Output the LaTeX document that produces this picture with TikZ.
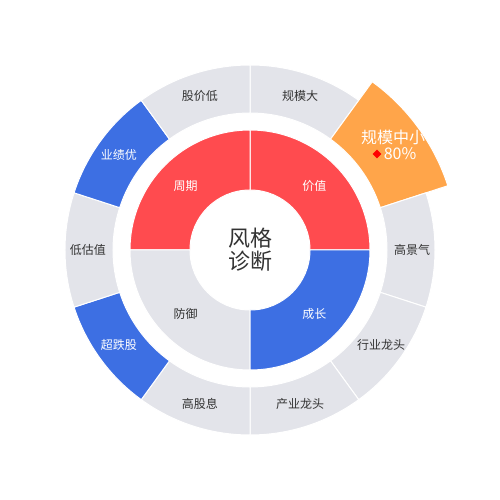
\documentclass[tikz,border=0pt]{standalone}
\usepackage{fontspec}
\setmainfont{Noto Sans CJK SC}
\usetikzlibrary{shapes.geometric}
\definecolor{cred}{HTML}{FF4B4F}
\definecolor{cblue}{HTML}{3D6FE3}
\definecolor{cgray}{HTML}{E3E4EA}
\definecolor{corange}{HTML}{FFA54A}
\definecolor{ctext}{HTML}{333333}
\newcommand\ringsector[5]{%
  \fill[#1, draw=white, line width=1pt] (#2:#4) arc[start angle=#2, end angle=#3, radius=#4] -- (#3:#5) arc[start angle=#3, end angle=#2, radius=#5] -- cycle;}
\tikzset{
  dark/.style={text=ctext, font=\fontsize{12}{12}\selectfont, inner sep=1pt},
  light/.style={text=white, font=\fontsize{12}{12}\selectfont, inner sep=1pt},
}
\begin{document}
\begin{tikzpicture}
\useasboundingbox (-250pt,-250pt) rectangle (250pt,250pt);
% inner ring
\ringsector{cred}{90}{0}{120pt}{60pt}
\ringsector{cred}{180}{90}{120pt}{60pt}
\ringsector{cgray}{270}{180}{120pt}{60pt}
\ringsector{cblue}{360}{270}{120pt}{60pt}
% outer ring
\ringsector{cgray}{90}{54}{185pt}{137pt}
\ringsector{corange}{54}{18}{208pt}{137pt}
\ringsector{cgray}{18}{-18}{185pt}{137pt}
\ringsector{cgray}{-18}{-54}{185pt}{137pt}
\ringsector{cgray}{-54}{-90}{185pt}{137pt}
\ringsector{cgray}{-90}{-126}{185pt}{137pt}
\ringsector{cblue}{-126}{-162}{185pt}{137pt}
\ringsector{cgray}{-162}{-198}{185pt}{137pt}
\ringsector{cblue}{162}{126}{185pt}{137pt}
\ringsector{cgray}{126}{90}{185pt}{137pt}
% inner labels
\node[light] (jiazhi) at (45:91pt) {价值};
\node[light] (zhouqi) at (135:91pt) {周期};
\node[dark] (fangyu) at (225:91pt) {防御};
\node[light] (chengzhang) at (315:91pt) {成长};
% outer labels
\node[dark] (guimoda) at (72:162pt) {规模大};
\node[dark] (gaojingqi) at (0:162pt) {高景气};
\node[dark] (hangye) at (-36:162pt) {行业龙头};
\node[dark] (chanye) at (-72:162pt) {产业龙头};
\node[dark] (gaoguxi) at (-108:162pt) {高股息};
\node[light] (chaodie) at (-144:162pt) {超跌股};
\node[dark] (diguzhi) at (180:162pt) {低估值};
\node[light] (yeji) at (144:162pt) {业绩优};
\node[dark] (gujiadi) at (108:162pt) {股价低};
% highlighted
\node[text=white, font=\fontsize{16}{16}\selectfont, inner sep=0pt] (zhongxiao) at (143pt,113pt) {规模中小};
\node[text=white, font=\fontsize{16}{16}\selectfont, inner sep=0pt] (pct) at (150pt,96pt) {80\%};
\node[diamond, fill=red, inner sep=0pt, minimum size=9pt] (dia) at (127pt,96pt) {};
% centre
\node[text=ctext, font=\fontsize{22}{23}\selectfont, align=center, inner sep=0pt] (centre) at (0pt,0pt) {风格\\诊断};
\end{tikzpicture}
\end{document}
